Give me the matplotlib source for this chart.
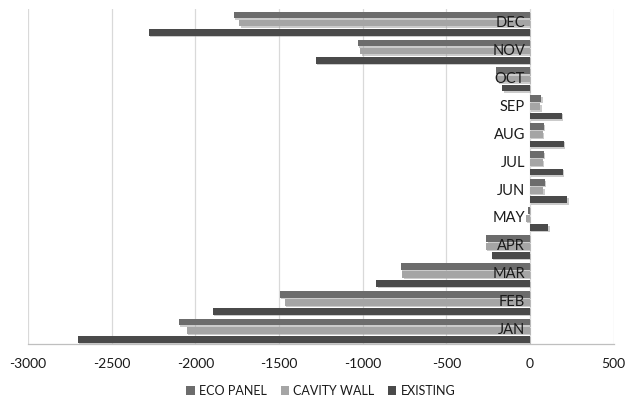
import matplotlib
matplotlib.use("Agg")
import matplotlib.pyplot as plt
import matplotlib.patheffects as pe
import numpy as np

months = ["JAN", "FEB", "MAR", "APR", "MAY", "JUN",
          "JUL", "AUG", "SEP", "OCT", "NOV", "DEC"]
eco_panel = [-2100, -1495, -772, -262, -15, 88, 82, 82, 68, -205, -1030, -1770]
cavity_wall = [-2052, -1465, -763, -265, -25, 80, 75, 75, 62, -195, -1015, -1737]
existing = [-2702, -1897, -918, -227, 110, 222, 197, 203, 188, -165, -1280, -2277]
x_ticks = [-3000, -2500, -2000, -1500, -1000, -500, 0, 500]

series = [
    ("ECO PANEL", eco_panel, "#6c6c6c", 0.29),
    ("CAVITY WALL", cavity_wall, "#a5a5a5", 0.0),
    ("EXISTING", existing, "#4a4a4a", -0.33),
]

plt.rcParams["font.family"] = ["Lato", "DejaVu Sans"]

fig = plt.figure(figsize=(6.36, 3.96), dpi=100)
ax = fig.add_axes([0.044, 0.131, 0.921, 0.846])

y = np.arange(len(months))
all_bars = []
for name, vals, color, off in series:
    bars = ax.barh(y + off, vals, height=0.24, color=color, label=name, zorder=3)
    all_bars.extend(bars)

for i, m in enumerate(months):
    ax.text(-30, i, m, ha="right", va="center", fontsize=10.5,
            color="#1a1a1a", zorder=5)

ax.set_xlim(-3000, 500)
ax.set_ylim(-0.5, 11.5)
ax.set_xticks(x_ticks)
ax.set_xticklabels([str(t) for t in x_ticks], fontsize=10, color="#1a1a1a")
ax.tick_params(axis="x", length=0, pad=10)
ax.set_yticks([])
ax.grid(axis="x", color="#d9d9d9", linewidth=0.9, zorder=0)
for s in ["top", "left", "right"]:
    ax.spines[s].set_visible(False)
ax.spines["bottom"].set_color("#bfbfbf")
ax.spines["bottom"].set_linewidth(0.9)

ax.legend(loc="upper center", bbox_to_anchor=(0.5, -0.088), ncol=3,
          frameon=False, fontsize=9, handlelength=0.65, handleheight=0.65,
          handletextpad=0.35, columnspacing=1.1,
          labelcolor="#1a1a1a")

# soft drop shadow under the bars (added after the legend so the keys stay flat)
shadow = [pe.SimplePatchShadow(offset=(1, -1), shadow_rgbFace="#999999", alpha=0.5),
          pe.Normal()]
for b in all_bars:
    b.set_path_effects(shadow)

fig.savefig("out.png", dpi=100)
